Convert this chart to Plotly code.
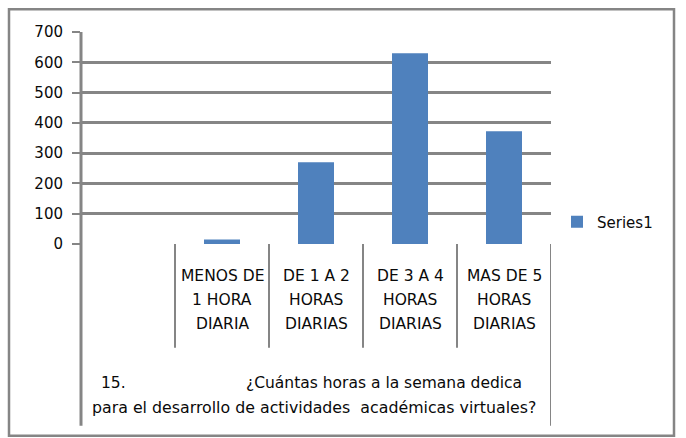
import plotly.graph_objects as go

# Survey answers: hours per week devoted to virtual academic activities
categories = ["", "MENOS DE\n1 HORA\nDIARIA", "DE 1 A 2\nHORAS\nDIARIAS",
              "DE 3 A 4\nHORAS\nDIARIAS", "MAS DE 5\nHORAS\nDIARIAS"]
values = [None, 15, 270, 630, 372]
series_name = "Series1"
y_ticks = [0, 100, 200, 300, 400, 500, 600, 700]
question_number = "15."
question_lines = ["¿Cuántas horas a la semana dedica",
                  "para el desarrollo de actividades  académicas virtuales?"]

W, H = 686, 438
PL, PR, PT, PB = 81, 551, 31.7, 244   # plot-area pixel box
BAR_BLUE = "#4F81BD"
GREY = "#858585"
INK = "#0a0a0a"
FONT = "DejaVu Sans"


def px(xp):
    return (xp - PL) / (PR - PL)


def py(yp):
    return (PB - yp) / (PB - PT)


positions = list(range(len(categories)))

fig = go.Figure()
fig.add_trace(go.Bar(
    x=positions, y=values, name=series_name,
    marker=dict(color=BAR_BLUE, line=dict(width=0)),
    showlegend=True,
))

shapes = []
annotations = []

# Chart frame
shapes.append(dict(type="rect", xref="paper", yref="paper",
                   x0=px(9), x1=px(674), y0=py(436), y1=py(9),
                   line=dict(color=GREY, width=2.5), layer="below"))

# Value axis line, continued down through the label table
shapes.append(dict(type="line", xref="paper", yref="paper",
                   x0=0, x1=0, y0=py(426), y1=1,
                   line=dict(color=GREY, width=3)))
# Right edge of the label table
shapes.append(dict(type="line", xref="x", yref="paper",
                   x0=len(categories) - 0.5, x1=len(categories) - 0.5,
                   y0=py(426), y1=0,
                   line=dict(color=GREY, width=2)))
# Dividers between category cells
for i in range(1, len(categories)):
    shapes.append(dict(type="line", xref="x", yref="paper",
                       x0=i - 0.5, x1=i - 0.5, y0=py(348), y1=0,
                       line=dict(color=GREY, width=2)))

# Category labels, one line of text per row
row_y = [276.5, 300.5, 324.5]
for pos, label in zip(positions, categories):
    if not label:
        continue
    for r, line in enumerate(label.split("\n")):
        annotations.append(dict(
            x=pos, xref="x", y=py(row_y[r]), yref="paper",
            text=line, showarrow=False, xanchor="center", yanchor="middle",
            font=dict(family=FONT, size=15.5, color=INK)))

# Group title under the table
annotations.append(dict(
    x=px(99), xref="paper", y=py(383), yref="paper",
    text=question_number, showarrow=False, xanchor="left", yanchor="middle",
    font=dict(family=FONT, size=15.5, color=INK)))
annotations.append(dict(
    x=px(244), xref="paper", y=py(383), yref="paper",
    text=question_lines[0], showarrow=False, xanchor="left", yanchor="middle",
    font=dict(family=FONT, size=15.5, color=INK)))
annotations.append(dict(
    x=px(314), xref="paper", y=py(408), yref="paper",
    text=question_lines[1], showarrow=False, xanchor="center", yanchor="middle",
    font=dict(family=FONT, size=15.8, color=INK)))

fig.update_layout(
    width=W, height=H,
    margin=dict(l=PL, r=W - PR, t=PT, b=H - PB, pad=0),
    paper_bgcolor="white", plot_bgcolor="white",
    bargap=0.617,
    font=dict(family=FONT, size=15, color=INK),
    xaxis=dict(range=[-0.5, len(categories) - 0.5], showticklabels=False,
               showgrid=False, zeroline=False, showline=False, ticks="",
               fixedrange=True),
    yaxis=dict(range=[0, 700], tickvals=y_ticks, showgrid=True,
               gridcolor=GREY, gridwidth=2.5, zeroline=False, showline=False,
               ticks="outside", ticklen=8, tickwidth=2, tickcolor=GREY,
               ticklabelstandoff=6,
               tickfont=dict(family=FONT, size=15, color=INK)),
    legend=dict(x=px(557), y=py(222), xanchor="left", yanchor="middle",
                bgcolor="rgba(0,0,0,0)", borderwidth=0,
                font=dict(family=FONT, size=15, color=INK)),
    shapes=shapes, annotations=annotations,
)

fig.write_html("out.html")
